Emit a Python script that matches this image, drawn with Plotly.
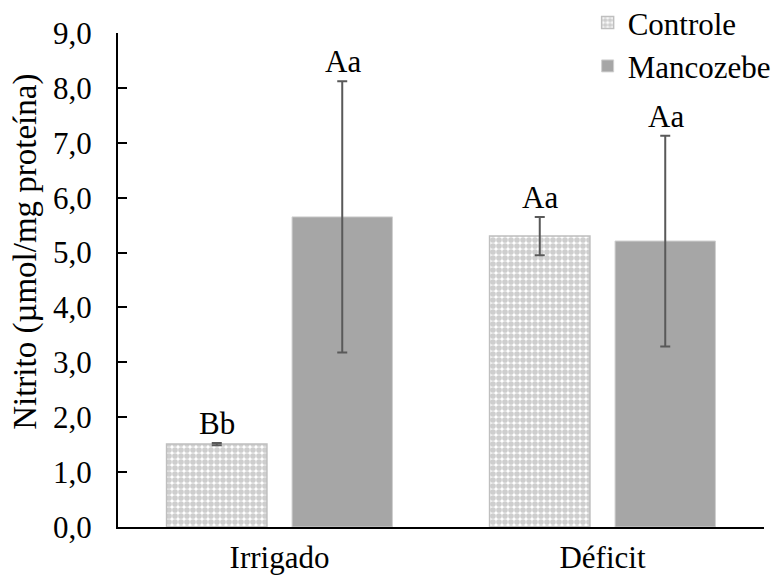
import plotly.graph_objects as go

categories = ["Irrigado", "Déficit"]
controle = [1.51, 5.30]
controle_err = [0.02, 0.35]
mancozebe = [5.65, 5.21]
mancozebe_err = [2.47, 1.92]
labels_controle = ["Bb", "Aa"]
labels_mancozebe = ["Aa", "Aa"]
y_ticks = [0, 1, 2, 3, 4, 5, 6, 7, 8, 9]
y_ticklabels = ["0,0", "1,0", "2,0", "3,0", "4,0", "5,0", "6,0", "7,0", "8,0", "9,0"]
y_title = "Nitrito (µmol/mg proteína)"

FONT = "Liberation Serif"
FS = 31

fig = go.Figure()
fig.add_trace(go.Bar(
    name="Controle", x=categories, y=controle,
    marker=dict(color="white", line=dict(color="#bfbfbf", width=1.5),
                pattern=dict(shape=".", fgcolor="#9e9e9e", bgcolor="white", size=6, solidity=0.7)),
    error_y=dict(type="data", array=controle_err, color="#595959", thickness=2, width=5),
))
fig.add_trace(go.Bar(
    name="Mancozebe", x=categories, y=mancozebe,
    marker=dict(color="#a6a6a6", line=dict(color="#d0d0d0", width=1)),
    error_y=dict(type="data", array=mancozebe_err, color="#595959", thickness=2, width=5),
))

slot_shift = 63
for i, c in enumerate(categories):
    fig.add_annotation(x=c, y=controle[i] + controle_err[i], text=labels_controle[i],
                       xref="x", yref="y", xshift=-slot_shift, yanchor="bottom",
                       showarrow=False, font=dict(family=FONT, size=FS, color="black"))
    fig.add_annotation(x=c, y=mancozebe[i] + mancozebe_err[i], text=labels_mancozebe[i],
                       xref="x", yref="y", xshift=slot_shift, yanchor="bottom",
                       showarrow=False, font=dict(family=FONT, size=FS, color="black"))

# y-axis title placed as rotated annotation (positioned as in the reference)
fig.add_annotation(x=-0.1424, y=0.557, xref="paper", yref="paper", text=y_title,
                   textangle=-90, showarrow=False, xanchor="center", yanchor="middle",
                   font=dict(family=FONT, size=33, color="black"))

fig.update_layout(
    width=777, height=579,
    margin=dict(l=118, r=13, t=33, b=52, autoexpand=False),
    paper_bgcolor="white", plot_bgcolor="white",
    font=dict(family=FONT, size=FS, color="black"),
    barmode="group", bargap=0.223, bargroupgap=0.2,
    showlegend=True,
    legend=dict(x=0.727, y=1.075, xanchor="left", yanchor="top",
                bgcolor="rgba(0,0,0,0)", font=dict(family=FONT, size=FS, color="black"),
                itemwidth=30, tracegroupgap=0),
    xaxis=dict(showline=True, linecolor="black", linewidth=2, ticks="",
               automargin=False, tickfont=dict(family=FONT, size=FS), showgrid=False,
               ticklabelstandoff=2),
    yaxis=dict(range=[0, 9], tickvals=y_ticks, ticktext=y_ticklabels,
               showline=True, linecolor="black", linewidth=2,
               ticks="inside", ticklen=9, tickwidth=1.5, tickcolor="black",
               showgrid=False, zeroline=False, automargin=False,
               ticklabelstandoff=18, tickfont=dict(family=FONT, size=FS)),
)
fig.write_html("out.html")
